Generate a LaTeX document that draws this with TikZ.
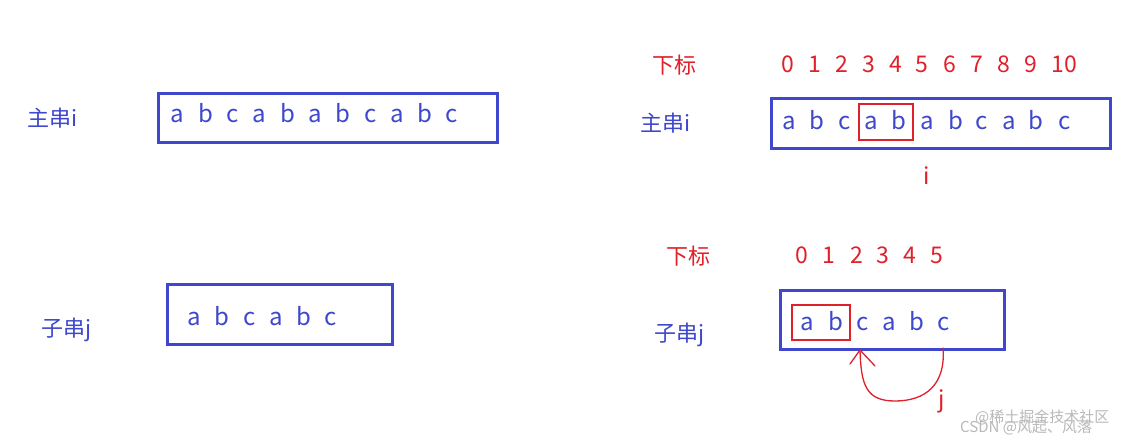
\documentclass[tikz,border=0pt]{standalone}
\usepackage{fontspec}
\setmainfont{Noto Sans CJK SC}
\definecolor{pblue}{HTML}{3F48CC}
\definecolor{pred}{HTML}{E0202A}
\begin{document}
\begin{tikzpicture}[x=1pt,y=-1pt,
  lett/.style={anchor=base,inner sep=0pt,text=pblue,font=\fontsize{24}{26}\selectfont},
  lbl/.style={anchor=base west,inner sep=0pt,text=pblue,font=\fontsize{22}{24}\selectfont},
  idx/.style={anchor=base,inner sep=0pt,text=pred,font=\fontsize{23}{25}\selectfont},
  rlbl/.style={anchor=base west,inner sep=0pt,text=pred,font=\fontsize{22}{24}\selectfont},
  bbox/.style={draw=pblue,line width=3pt},
  rbox/.style={draw=pred,line width=2.6pt},
  rline/.style={draw=pred,line width=1.3pt,line cap=round,line join=round},
  wm/.style={anchor=base west,inner sep=0pt,text=gray!55,font=\fontsize{15}{17}\selectfont}]
\useasboundingbox (0,0) rectangle (1147,444);
\fill[white] (0,0) rectangle (1147,444);

% ---------- left top ----------
\node[lbl] (lmainlbl) at (27,126) {主串i};
\draw[bbox] (158,93) rectangle (497,142);
\foreach \x/\c [count=\k] in {177/a,206/b,233/c,259/a,288/b,315/a,343/b,371/c,397/a,425/b,452/c}
  \node[lett] (lm\k) at (\x,122) {\c};

% ---------- left bottom ----------
\node[lbl] (lsublbl) at (41,336) {子串j};
\draw[bbox] (167,284) rectangle (392,344);
\foreach \x/\c [count=\k] in {194/a,222/b,250/c,276/a,304/b,331/c}
  \node[lett] (ls\k) at (\x,325) {\c};

% ---------- right top ----------
\node[rlbl] (rtidxlbl) at (652,74) {下标};
\foreach \x/\d [count=\k] in {788/0,815/1,842/2,869/3,896/4,922/5,950/6,977/7,1004/8,1031/9,1064/10}
  \node[idx] (ti\k) at (\x,72) {\d};
\node[lbl] (rmainlbl) at (640,131) {主串i};
\draw[bbox] (771,98) rectangle (1110,148);
\foreach \x/\c [count=\k] in {789/a,817/b,845/c,871/a,899/b,927/a,956/b,982/c,1009/a,1036/b,1065/c}
  \node[lett] (rm\k) at (\x,129) {\c};
\draw[rbox] (859,104) rectangle (913,140);
\node[anchor=base,inner sep=0pt,text=pred,font=\fontsize{23}{25}\selectfont] (ipos) at (927,184) {i};

% ---------- right bottom ----------
\node[rlbl] (rbidxlbl) at (666,264) {下标};
\foreach \x/\d [count=\k] in {802/0,829/1,857/2,883/3,910/4,937/5}
  \node[idx] (bi\k) at (\x,263) {\d};
\node[lbl] (rsublbl) at (654,341) {子串j};
\draw[bbox] (780,290) rectangle (1004,349);
\foreach \x/\c [count=\k] in {807/a,836/b,863/c,889/a,917/b,944/c}
  \node[lett] (rs\k) at (\x,330) {\c};
\draw[rbox] (792,305) rectangle (850,340);

% arrow j -> c
\coordinate (astart) at (943,348);
\coordinate (atip) at (860,350);
\draw[rline] (astart) .. controls (946,385) and (925,401) .. (895,401)
  .. controls (866,401) and (861,385) .. (atip);
\draw[rline] (850,364) -- (atip) -- (875,366);
\node[anchor=base,inner sep=0pt,text=pred,font=\fontsize{23}{25}\selectfont] (jpos) at (942,407) {j};

% watermark
\node[wm] (wm1) at (975,422) {@稀土掘金技术社区};
\node[wm] (wm2) at (960,432) {CSDN @风起、风落};
\end{tikzpicture}
\end{document}
